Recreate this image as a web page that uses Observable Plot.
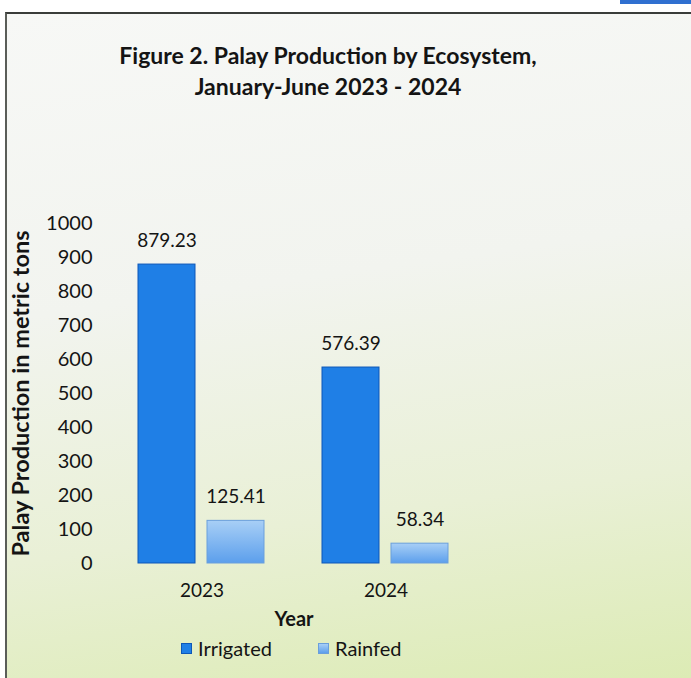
<!DOCTYPE html>
<html>
<head>
<meta charset="utf-8">
<script src="https://cdn.jsdelivr.net/npm/d3@7"></script>
<script src="https://cdn.jsdelivr.net/npm/@observablehq/plot@0.6"></script>
<style>
  html, body { margin: 0; padding: 0; background: #ffffff; }
  #page { position: relative; width: 691px; height: 678px; overflow: hidden; font-family: Lato, "Open Sans", sans-serif; color: #141414; }
  #topbar { position: absolute; left: 620px; top: 0; width: 71px; height: 4px; background: #2f6fd0; }
  #frame { position: absolute; left: 5px; top: 12px; right: -4px; bottom: -4px;
    border-top: 2px solid #3a3d3a; border-left: 2px solid #5a5d58;
    background: linear-gradient(172deg, #f7f8f6 0%, #f2f4ef 40%, #e9f0d6 72%, #dcebb4 100%); }
  #title { position: absolute; left: 0; top: 40px; width: 656px; text-align: center; font-weight: 700; font-size: 23px; line-height: 31px; }
  #chart { position: absolute; left: 0; top: 110px; }
  #legend { position: absolute; top: 636px; left: 0; width: 691px; height: 24px; font-size: 20px; }
  .item { position: absolute; top: 0; display: flex; align-items: center; height: 24px; }
  .sw { width: 11px; height: 11px; margin-right: 6px; box-sizing: border-box; }
</style>
</head>
<body>
<div id="page">
  <div id="topbar"></div>
  <div id="frame"></div>
  <div id="title">Figure 2. Palay Production by Ecosystem,<br>January-June 2023 - 2024</div>
  <div id="chart"></div>
  <div id="legend">
    <div class="item" style="left:181px"><div class="sw" style="background:#1f7fe6;border:1px solid #0d57b8"></div><span>Irrigated</span></div>
    <div class="item" style="left:318px"><div class="sw" style="background:linear-gradient(#a8cff6,#5c9fec);border:1px solid #6a9fdc"></div><span>Rainfed</span></div>
  </div>
</div>
<script>
const years = ["2023", "2024"];
const ecosystems = ["Irrigated", "Rainfed"];
const irrigated = [879.23, 576.39];
const rainfed = [125.41, 58.34];
const yTicks = [0, 100, 200, 300, 400, 500, 600, 700, 800, 900, 1000];

const data = years.flatMap((yr, i) => [
  {year: yr, eco: "Irrigated", value: irrigated[i]},
  {year: yr, eco: "Rainfed", value: rainfed[i]}
]);

const chart = Plot.plot({
  width: 691,
  height: 520,
  marginTop: 113,
  marginBottom: 67,
  marginLeft: 138,
  marginRight: 242,
  style: {fontFamily: "Lato, 'Open Sans', sans-serif", fontSize: "19px", background: "transparent", color: "#141414"},
  fx: {domain: years, paddingInner: 0.31, paddingOuter: 0},
  x: {domain: ecosystems, paddingInner: 0.1727, paddingOuter: 0, axis: null},
  y: {domain: [0, 1000]},
  color: {domain: ecosystems, range: ["#1f7fe6", "url(#rainfedGrad)"]},
  marks: [
    Plot.barY(data, {fx: "year", x: "eco", y: "value", fill: "eco",
      stroke: d => d.eco === "Irrigated" ? "#0d57b8" : "#6a9fdc", strokeWidth: 1}),
    Plot.text(data, {fx: "year", x: "eco", y: "value", text: d => d.value.toFixed(2), dy: -24, fill: "#141414", fontSize: 19}),
    Plot.axisY({ticks: yTicks, tickFormat: d => String(d), tickSize: 0, tickPadding: 46, fontSize: 20,
      label: null}),
    Plot.axisY({ticks: [], tickSize: 0, label: "Palay Production in metric tons",
      labelAnchor: "center", labelOffset: 126, labelArrow: "none", fontSize: 23.5, fontWeight: 700}),
    Plot.axisFx({anchor: "bottom", tickSize: 0, tickPadding: 20, fontSize: 19, label: null}),
    Plot.axisFx({anchor: "bottom", ticks: [], tickSize: 0, label: "Year", labelAnchor: "center",
      labelOffset: 62, labelArrow: "none", fontSize: 20, fontWeight: 700})
  ]
});

document.getElementById("chart").appendChild(chart);
const svg = d3.select(chart);
const defs = svg.insert("defs", ":first-child");
const g = defs.append("linearGradient").attr("id", "rainfedGrad").attr("x1", 0).attr("y1", 0).attr("x2", 0).attr("y2", 1);
g.append("stop").attr("offset", "0%").attr("stop-color", "#a8cff6");
g.append("stop").attr("offset", "100%").attr("stop-color", "#5c9fec");
</script>
</body>
</html>
